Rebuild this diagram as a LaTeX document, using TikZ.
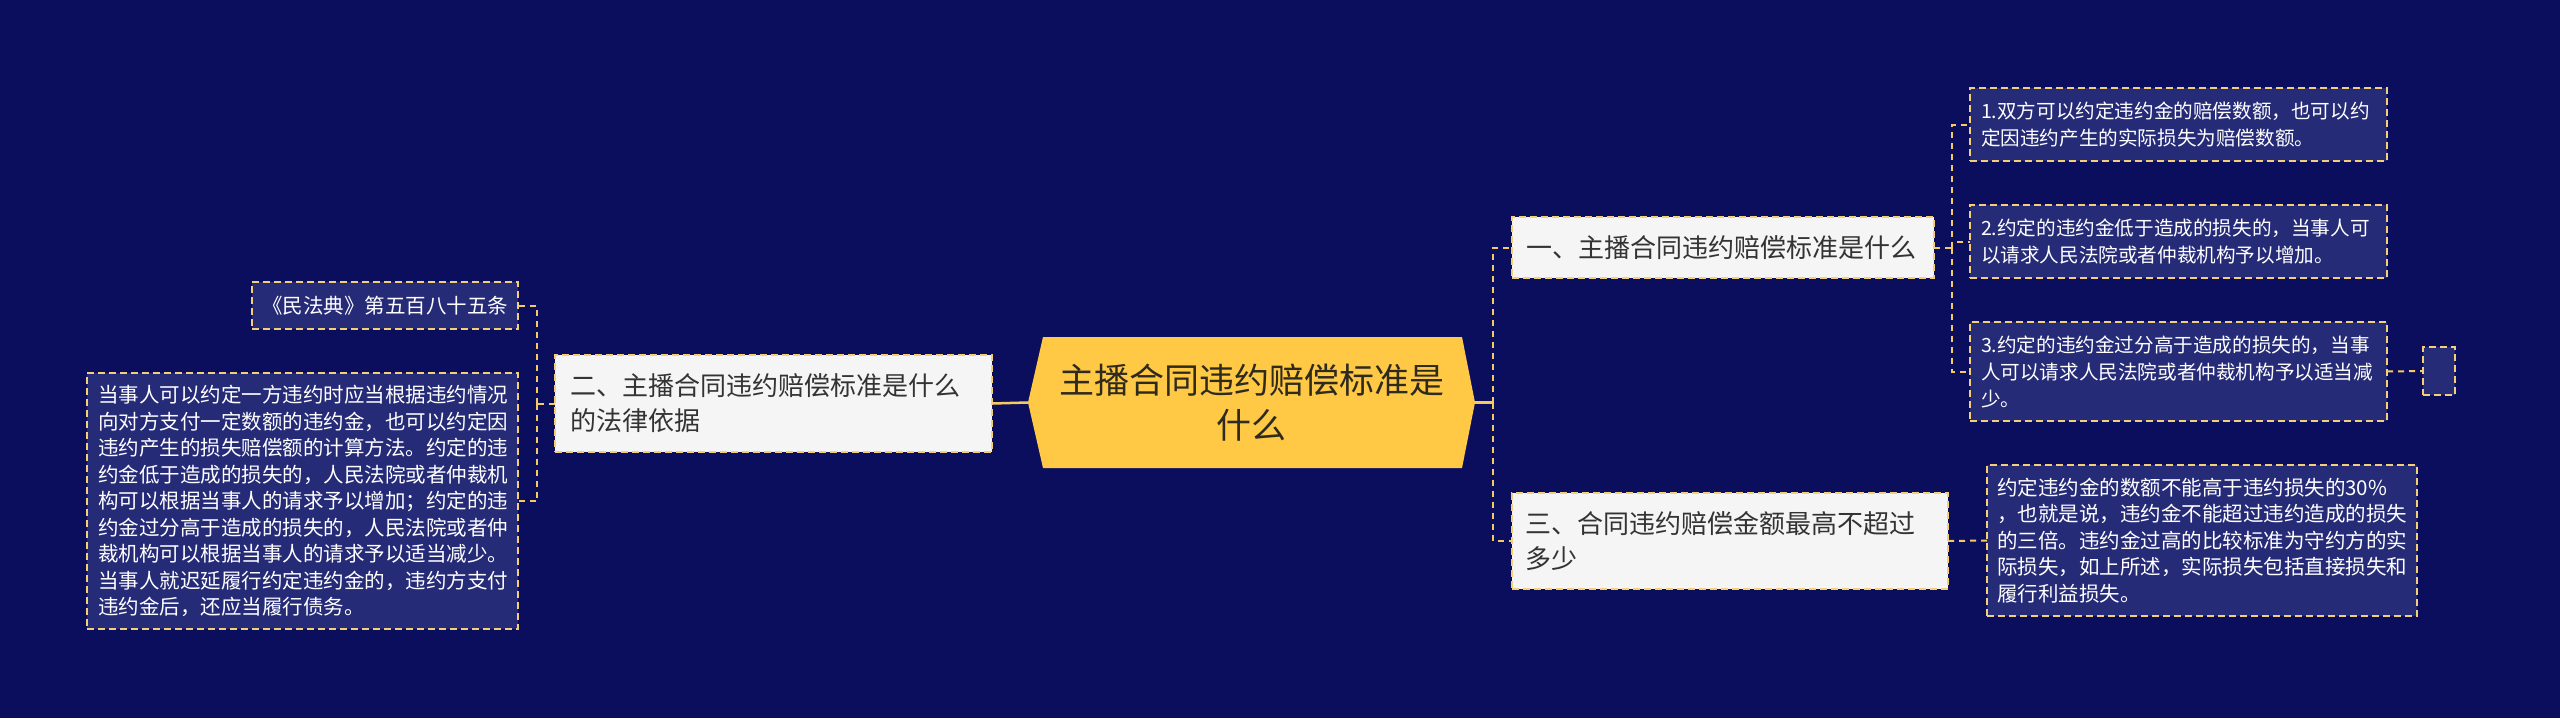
\documentclass[tikz,border=0pt]{standalone}
\usepackage{fontspec}
\setmainfont{Noto Sans CJK SC}
\pgfdeclarelayer{bg}
\pgfdeclarelayer{shapes}
\pgfsetlayers{bg,shapes,main}
\definecolor{bgnavy}{HTML}{0A0E5C}
\definecolor{rootfill}{HTML}{FFC845}
\definecolor{branchfill}{HTML}{F5F5F5}
\definecolor{detailfill}{HTML}{262B78}
\definecolor{dashyellow}{HTML}{F3CF78}
\definecolor{lineyellow}{HTML}{F5CB60}
\definecolor{branchtext}{HTML}{333333}
\definecolor{roottext}{HTML}{2E2A1E}
\tikzset{
  base/.style={inner ysep=0pt, outer sep=0pt, align=left},
  branch/.style={base, fill=branchfill, draw=dashyellow, line width=1.6pt,
    dash pattern=on 7pt off 4pt, text=branchtext, font=\fontsize{26}{35}\selectfont},
  detail/.style={base, fill=detailfill, draw=dashyellow, line width=1.6pt,
    dash pattern=on 7pt off 4pt, text=white, font=\fontsize{20.5}{26.5}\selectfont},
  smalldetail/.style={detail, font=\fontsize{19.6}{27}\selectfont},
  rootbox/.style={base, align=center, text=roottext, font=\fontsize{35}{45}\selectfont,
    minimum width=447, minimum height=131, inner xsep=0pt},
  con/.style={draw=lineyellow, line width=2pt, dash pattern=on 6pt off 5pt},
  solidcon/.style={draw=lineyellow, line width=2.5pt},
}
\begin{document}
\begin{tikzpicture}[x=1pt,y=-1pt]
\begin{pgfonlayer}{bg}
\fill[bgnavy] (0,0) rectangle (2560,718);
\end{pgfonlayer}
\useasboundingbox (0,0) rectangle (2560,718);

% root
\node[rootbox] (r) at (1251.5,402.5) {主播合同违约赔偿标准是\\什么};
\begin{pgfonlayer}{shapes}
\fill[rootfill] (r.west) -- ([xshift=15pt]r.north west) -- ([xshift=-13pt]r.north east)
  -- (r.east) -- ([xshift=-13pt]r.south east) -- ([xshift=15pt]r.south west) -- cycle;
\end{pgfonlayer}

% branches
\node[branch, minimum width=422, minimum height=61, text width=394, inner xsep=14pt] (b1) at (1723,247.5)
  {一、主播合同违约赔偿标准是什么};
\node[branch, minimum width=436, minimum height=96, text width=410, inner xsep=13pt] (b3) at (1730,541)
  {三、合同违约赔偿金额最高不超过\\多少};
\node[branch, minimum width=437, minimum height=97, text width=407, inner xsep=15pt] (b2) at (773.5,403.5)
  {二、主播合同违约赔偿标准是什么\\的法律依据};

% details of branch 1
\node[smalldetail, minimum width=417, minimum height=73, text width=395, inner xsep=11pt] (c1) at (2178.5,124.5)
  {1.双方可以约定违约金的赔偿数额，也可以约\\定因违约产生的实际损失为赔偿数额。};
\node[smalldetail, minimum width=417, minimum height=73, text width=395, inner xsep=11pt] (c2) at (2178.5,241.5)
  {2.约定的违约金低于造成的损失的，当事人可\\以请求人民法院或者仲裁机构予以增加。};
\node[smalldetail, minimum width=417, minimum height=99, text width=395, inner xsep=11pt] (c3) at (2178.5,371.5)
  {3.约定的违约金过分高于造成的损失的，当事\\人可以请求人民法院或者仲裁机构予以适当减\\少。};
\node[detail, minimum width=32, minimum height=48, inner xsep=0pt] (e) at (2439,371) {};

% detail of branch 3
\node[detail, minimum width=430, minimum height=151, text width=410, inner xsep=10pt] (d3) at (2202,540.5)
  {约定违约金的数额不能高于违约损失的30\%\\，也就是说，违约金不能超过违约造成的损失\\的三倍。违约金过高的比较标准为守约方的实\\际损失，如上所述，实际损失包括直接损失和\\履行利益损失。};

% details of branch 2
\node[detail, align=center, minimum width=266, minimum height=47, inner xsep=0pt] (l1) at (385,305.5)
  {《民法典》第五百八十五条};
\node[detail, minimum width=431, minimum height=256, text width=409, inner xsep=11pt] (l2) at (302.5,501)
  {当事人可以约定一方违约时应当根据违约情况\\向对方支付一定数额的违约金，也可以约定因\\违约产生的损失赔偿额的计算方法。约定的违\\约金低于造成的损失的，人民法院或者仲裁机\\构可以根据当事人的请求予以增加；约定的违\\约金过分高于造成的损失的，人民法院或者仲\\裁机构可以根据当事人的请求予以适当减少。\\当事人就迟延履行约定违约金的，违约方支付\\违约金后，还应当履行债务。};

% junctions
\coordinate (jR) at (1493,402.5);
\coordinate (j1) at (1952,247.5);
\coordinate (jL) at (537,403.5);

% connectors
\begin{pgfonlayer}{shapes}
\draw[solidcon] (r.west) -- (b2.east);
\draw[solidcon] (r.east) -- (jR);
\draw[con] (jR) |- (b1.west);
\draw[con] (jR) |- (b3.west);
\draw[con] (b1.east) -- (j1);
\draw[con] (j1) |- (c1.west);
\draw[con] (j1) |- (c2.west);
\draw[con] (j1) |- (c3.west);
\draw[con] (c3.east) -- (e.west);
\draw[con] (b3.east) -- (d3.west);
\draw[con] (b2.west) -- (jL);
\draw[con] (jL) |- (l1.east);
\draw[con] (jL) |- (l2.east);
\end{pgfonlayer}
\end{tikzpicture}
\end{document}
